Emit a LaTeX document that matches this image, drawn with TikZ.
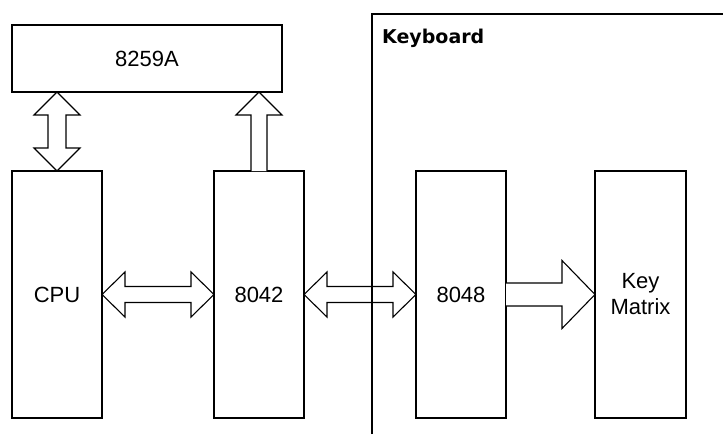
\documentclass[tikz,border=0pt]{standalone}
\usepackage{fontspec}
\setmainfont{Liberation Sans}
\newfontfamily\kbfont{DejaVu Sans}
\usetikzlibrary{calc}
\tikzset{
  blk/.style={draw, line width=1.1pt, rectangle, inner sep=0pt, outer sep=0pt, font=\fontsize{22}{26}\selectfont, align=center},
  fat/.style={draw, line width=1.1pt, fill=white, line join=miter},
  frame/.style={draw, line width=1.1pt},
}
\begin{document}
\begin{tikzpicture}[x=1pt,y=-1pt]
\useasboundingbox (0,0) rectangle (723,434);
% blocks
\node[blk, minimum width=270pt, minimum height=67pt] (pic) at (147,58.5) {8259A};
\node[blk, minimum width=90pt, minimum height=247pt] (cpu) at (57,294.5) {CPU};
\node[blk, minimum width=90pt, minimum height=247pt] (kbc) at (259,294.5) {8042};
\node[blk, minimum width=90pt, minimum height=247pt] (kc) at (461,294.5) {8048};
\node[blk, minimum width=91pt, minimum height=247pt] (km) at (640.5,294.5) {Key\\Matrix};
% CPU <-> 8042
\draw[fat] let \p1=(cpu.east), \p2=(kbc.west) in
  (\x1,\y1) -- (\x1+23pt,\y1+22.5pt) -- (\x1+23pt,\y1+8pt) -- (\x2-23pt,\y1+8pt) -- (\x2-23pt,\y1+22.5pt)
  -- (\x2,\y1) -- (\x2-23pt,\y1-22.5pt) -- (\x2-23pt,\y1-8pt) -- (\x1+23pt,\y1-8pt) -- (\x1+23pt,\y1-22.5pt) -- cycle;
% 8042 <-> 8048
\draw[fat] let \p1=(kbc.east), \p2=(kc.west) in
  (\x1,\y1) -- (\x1+23pt,\y1+22.5pt) -- (\x1+23pt,\y1+8pt) -- (\x2-23pt,\y1+8pt) -- (\x2-23pt,\y1+22.5pt)
  -- (\x2,\y1) -- (\x2-23pt,\y1-22.5pt) -- (\x2-23pt,\y1-8pt) -- (\x1+23pt,\y1-8pt) -- (\x1+23pt,\y1-22.5pt) -- cycle;
% 8048 -> Key Matrix
\draw[fat] let \p1=(kc.east), \p2=(km.west) in
  (\x1,\y1+11.5pt) -- (\x2-33pt,\y1+11.5pt) -- (\x2-33pt,\y1+34pt) -- (\x2,\y1)
  -- (\x2-33pt,\y1-34pt) -- (\x2-33pt,\y1-11.5pt) -- (\x1,\y1-11.5pt);
% CPU <-> 8259A
\draw[fat] let \p1=(cpu.north), \p2=(cpu.north |- pic.south) in
  (\x1,\y1) -- (\x1-23pt,\y1+23pt) -- (\x1-9pt,\y1+23pt) -- (\x1-9pt,\y2-23pt) -- (\x1-23pt,\y2-23pt)
  -- (\x1,\y2) -- (\x1+23pt,\y2-23pt) -- (\x1+9pt,\y2-23pt) -- (\x1+9pt,\y1+23pt) -- (\x1+23pt,\y1+23pt) -- cycle;
% 8042 -> 8259A
\draw[fat] let \p1=(kbc.north), \p2=(kbc.north |- pic.south) in
  (\x1-8pt,\y1) -- (\x1-8pt,\y2-23pt) -- (\x1-23pt,\y2-23pt) -- (\x1,\y2)
  -- (\x1+23pt,\y2-23pt) -- (\x1+8pt,\y2-23pt) -- (\x1+8pt,\y1);
% keyboard frame
\coordinate (kbl) at (372,434);
\coordinate (kbtl) at (372,14);
\coordinate (kbr) at (723,14);
\draw[frame] (kbl) -- (kbtl) -- (kbr);
\node[anchor=base west, inner sep=0pt, font=\kbfont\bfseries\fontsize{19}{22}\selectfont] (kbt) at (382,43) {Keyboard};
\end{tikzpicture}
\end{document}
